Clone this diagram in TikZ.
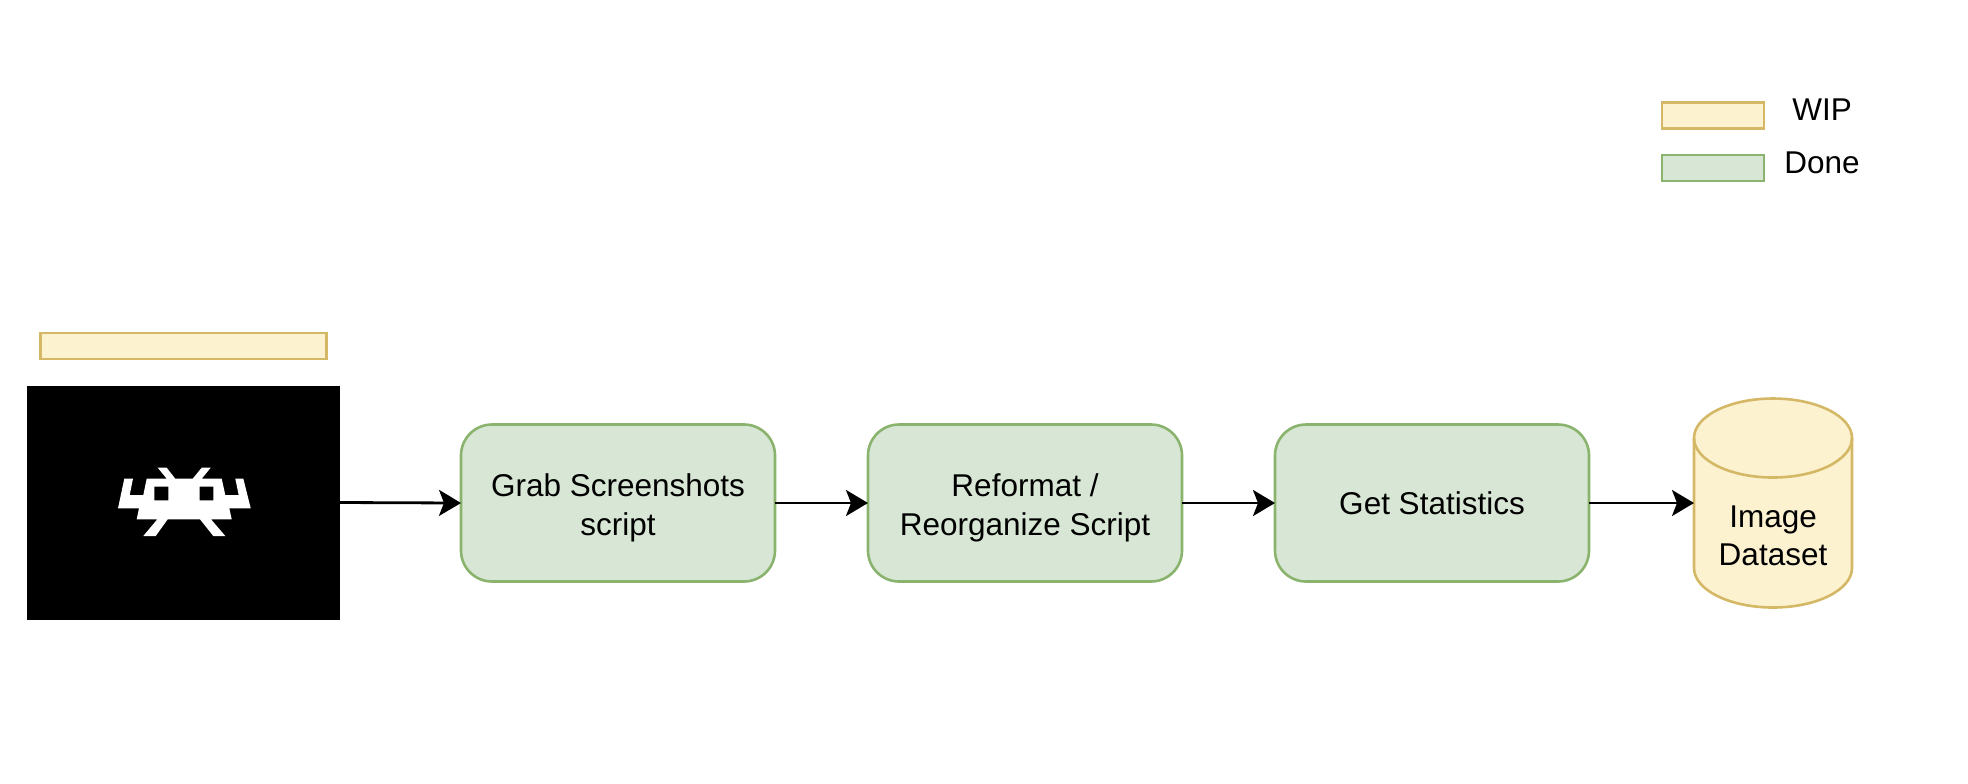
\documentclass[tikz,border=0pt]{standalone}
\usepackage{fontspec}
\setmainfont{Liberation Sans}
\usetikzlibrary{arrows.meta}
\definecolor{doneFill}{HTML}{D8E7D5}
\definecolor{doneLine}{HTML}{8AB36E}
\definecolor{wipFill}{HTML}{FDF2D0}
\definecolor{wipLine}{HTML}{D4B866}
\tikzset{
    every node/.style={font=\fontsize{15.75}{19.2}\selectfont, align=center, inner sep=0pt, outer sep=0pt},
    wipbar/.style={draw=wipLine, fill=wipFill, line width=1.3pt},
    donebar/.style={draw=doneLine, fill=doneFill, line width=1.3pt},
    stepbox/.style={donebar, rounded corners=15.5pt, minimum width=157pt, minimum height=78.5pt},
    twolines/.style={text height=35.5pt},
    flow/.style={-{Stealth[length=11pt,width=13pt,inset=2.5pt]}, line width=1.4pt},
}
\begin{document}
\begin{tikzpicture}[x=0.5pt, y=-0.5pt]
    \useasboundingbox (0,0) rectangle (1968,783);

    % legend
    \node[wipbar, minimum width=51pt, minimum height=13pt] (legendWip) at (1713,115.5) {};
    \node[donebar, minimum width=51pt, minimum height=13pt] (legendDone) at (1713,168) {};
    \node (legendWipText) at (1822,110) {WIP};
    \node (legendDoneText) at (1822,163) {Done};

    % source
    \node[wipbar, minimum width=143pt, minimum height=13pt] (sourceBar) at (183.5,346) {};
    \node[fill=black, minimum width=156.5pt, minimum height=117pt] (logo) at (183.5,502.5) {};
    \fill[white, even odd rule] (124.3,478.7) -- (133,478.7) -- (129.7,495) -- (143.3,495) -- (146.7,478.7)
        -- (166.7,478.7) -- (157.7,467.7) -- (166.7,467.7) -- (175.3,478.7) -- (192.7,478.7)
        -- (201.7,467.7) -- (210.7,467.7) -- (201.7,478.7) -- (221.7,478.7) -- (225.3,495)
        -- (238.7,495) -- (235.3,478.7) -- (243.3,478.7) -- (250.7,508.3) -- (229.3,508.3)
        -- (231.7,519.3) -- (211,519.3) -- (225.3,536) -- (213.3,536) -- (200,519.3)
        -- (167.7,519.3) -- (155.7,536) -- (143.3,536) -- (157.3,519.3) -- (136.7,519.3)
        -- (139,508.3) -- (118,508.3) -- cycle
        (154.3,486.7) rectangle (168.3,500.3)
        (199.7,486.7) rectangle (213.3,500.3);

    % pipeline
    \node[stepbox, twolines] (grab) at (618,503) {Grab Screenshots\\script};
    \node[stepbox, twolines] (reformat) at (1025,503) {Reformat /\\Reorganize Script};
    \node[stepbox] (stats) at (1432,503) {Get Statistics};

    % barrel
    \draw[wipbar] (1694,438) arc[start angle=180, end angle=0, x radius=39.5pt, y radius=19.75pt]
        -- (1852,568) arc[start angle=0, end angle=-180, x radius=39.5pt, y radius=19.75pt] -- cycle;
    \draw[wipbar, fill=none] (1694,438) arc[start angle=180, end angle=360, x radius=39.5pt, y radius=19.75pt];
    \node[minimum width=79pt, minimum height=104.5pt, text height=63pt] (dataset) at (1773,503) {Image\\Dataset};

    \draw[flow] (logo.east) -- (grab.west);
    \draw[flow] (grab) -- (reformat);
    \draw[flow] (reformat) -- (stats);
    \draw[flow] (stats) -- (dataset);
\end{tikzpicture}
\end{document}
